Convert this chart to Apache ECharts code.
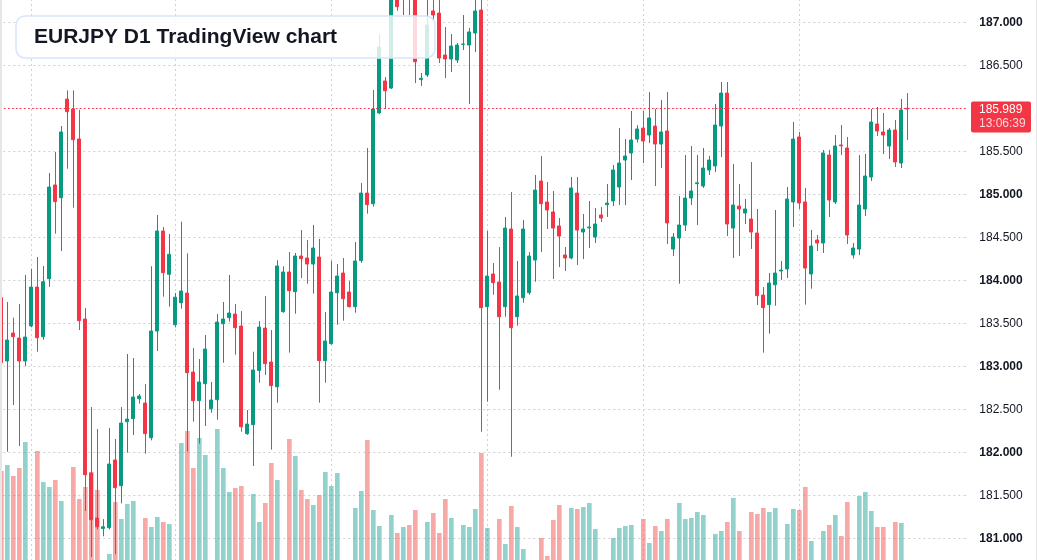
<!DOCTYPE html>
<html><head><meta charset="utf-8">
<script src="https://cdn.jsdelivr.net/npm/echarts@6/dist/echarts.min.js"></script>
<style>
html,body{margin:0;padding:0;background:#fff;overflow:hidden;}
#c{width:1037px;height:560px;position:absolute;left:0;top:0;}
.edge{position:absolute;top:0;height:560px;background:#e6e6e6;z-index:5;}
</style></head><body>
<div id="c"></div>
<div class="edge" style="left:0;width:2px"></div>
<div class="edge" style="left:1036px;width:1px"></div>
<script>
const title = 'EURJPY D1 TradingView chart';
const countdown = '13:06:39';
const opens = [183.794,183.058,183.383,183.325,183.058,183.465,183.918,183.341,184.015,185.105,
184.957,186.104,185.988,185.640,183.546,181.755,181.232,181.110,181.120,181.907,
181.608,182.352,182.387,182.620,182.569,182.166,183.407,184.570,184.066,183.480,
183.736,183.848,182.930,182.597,182.794,182.503,182.608,183.492,183.562,183.604,
183.465,182.213,182.318,182.949,183.441,183.046,182.759,183.631,184.093,183.864,
184.279,184.256,184.186,184.267,183.062,183.259,183.852,184.081,183.860,183.690,
184.225,185.011,184.887,185.942,186.314,186.232,187.320,187.300,187.550,187.350,
186.330,186.384,187.128,187.104,186.616,186.570,186.558,186.740,186.732,186.872,
187.139,183.690,184.070,183.976,183.690,184.593,183.573,183.794,183.852,184.232,
185.151,184.907,184.791,184.628,184.291,184.256,185.011,184.558,184.606,184.500,
184.756,184.876,184.919,185.081,185.395,185.477,185.639,185.767,185.686,185.790,
185.581,185.733,184.360,184.488,184.639,184.953,185.120,185.093,185.279,185.326,
185.791,186.174,184.604,184.860,184.779,184.709,184.546,183.825,183.713,183.945,
184.105,184.128,184.907,185.663,184.907,184.070,184.465,184.430,185.453,184.907,
185.570,185.535,184.291,184.360,184.826,185.198,185.814,185.721,185.558,185.744,
185.360,185.995];
const closes = [183.038,183.302,183.341,183.058,183.337,183.918,183.329,183.980,185.081,184.911,
185.721,185.957,185.632,183.527,181.736,181.213,181.131,181.130,181.860,181.585,
182.337,182.383,182.639,182.650,182.213,183.407,184.570,184.085,184.298,183.800,
183.872,182.922,182.597,182.814,183.197,182.605,183.511,183.546,183.616,183.445,
182.294,182.325,182.953,183.453,183.027,182.771,184.163,184.093,183.876,184.279,
184.248,184.186,184.372,183.062,183.290,183.860,184.046,183.783,183.690,184.221,
185.011,184.876,185.988,186.709,186.201,187.350,187.178,187.500,187.350,186.539,
186.345,186.965,187.081,186.581,186.570,186.721,186.732,186.744,186.884,187.128,
183.678,184.046,183.969,183.573,184.604,183.445,183.814,184.593,184.279,185.046,
184.887,184.814,184.604,184.511,184.256,185.070,184.581,184.593,184.616,184.651,
184.721,184.895,185.279,185.360,185.442,185.628,185.756,185.616,185.884,185.581,
185.721,184.663,184.500,184.639,184.953,185.035,185.130,185.302,185.395,185.802,
186.174,184.651,184.872,184.826,184.826,184.558,183.818,183.678,183.965,184.081,
184.116,184.942,185.639,184.895,184.139,184.395,184.430,185.477,184.930,185.558,
185.560,184.523,184.372,184.872,185.209,185.837,185.733,185.686,185.744,185.372,
185.977,185.989];
const lows = [182.980,182.004,182.546,182.070,182.999,183.450,183.166,183.306,183.920,184.539,
184.337,185.294,184.841,183.418,181.314,180.779,181.100,181.020,181.100,180.810,
181.403,181.992,182.197,182.562,181.980,182.135,183.174,183.806,183.690,183.450,
183.666,182.004,182.352,182.097,182.302,182.457,182.376,183.038,183.515,183.131,
182.236,182.200,181.837,182.806,182.895,182.027,182.573,183.620,183.155,183.608,
184.023,183.957,183.841,182.573,182.806,183.250,183.480,183.527,183.680,183.620,
184.200,184.771,184.853,185.930,185.988,186.221,187.130,187.081,187.081,186.290,
186.256,186.360,187.023,186.523,186.349,186.418,186.523,186.674,186.046,186.651,
182.236,182.585,183.829,182.724,183.573,181.945,183.469,183.736,183.829,183.980,
184.325,184.593,184.011,184.151,184.105,184.240,184.174,184.244,184.372,184.430,
184.674,184.733,184.860,184.872,184.872,185.163,185.600,185.360,185.593,185.093,
185.302,184.419,184.279,183.957,184.570,184.872,184.639,185.070,185.221,185.256,
185.430,184.511,184.256,184.279,184.651,184.361,183.709,183.155,183.376,183.701,
184.000,184.023,184.616,184.826,183.713,183.899,184.337,184.314,184.732,184.884,
185.453,184.419,184.250,184.290,184.744,185.151,185.674,185.465,185.407,185.314,
185.302,185.628];
const highs = [183.800,183.744,183.562,183.721,184.058,184.132,184.267,184.163,185.244,185.488,
185.791,186.205,186.205,185.980,183.674,182.523,182.267,181.220,182.279,182.151,
182.523,183.139,183.093,182.674,182.790,184.160,184.756,184.616,184.535,183.850,
184.678,184.310,183.209,183.081,183.360,182.814,183.604,183.744,184.058,183.721,
183.639,182.488,183.166,183.523,183.814,183.418,184.230,184.160,184.325,184.314,
184.581,184.465,184.640,184.477,183.628,184.221,184.186,184.256,183.990,184.442,
185.128,185.535,186.209,186.860,186.360,187.450,187.420,187.550,187.600,187.400,
186.407,187.280,187.300,187.280,186.942,186.860,186.756,187.081,186.930,187.260,
187.300,184.570,184.197,184.383,184.732,185.023,184.221,184.698,184.325,185.221,
185.442,185.139,185.035,184.721,184.383,185.198,185.198,184.767,184.918,184.837,
184.849,185.116,185.337,185.767,185.639,185.965,185.800,185.965,186.186,185.988,
186.093,186.186,184.547,184.977,185.453,185.558,185.453,185.535,185.442,186.046,
186.302,186.302,185.349,185.116,184.942,185.372,184.826,183.918,184.081,184.814,
184.221,185.081,185.837,185.721,185.070,184.581,184.523,185.512,185.512,185.686,
185.802,185.663,184.430,185.453,185.465,185.988,186.012,185.942,185.767,185.860,
186.105,186.174];
const volumes = [89,95,84,92,118,0,109,78,73,80,
59,0,93,61,73,88,70,0,6,58,
41,56,59,0,42,33,43,38,36,0,
117,129,92,122,105,0,131,92,68,72,
74,0,66,38,57,97,80,0,121,104,
70,61,55,65,88,74,87,0,0,52,
69,120,50,34,0,45,27,33,35,50,
0,38,47,27,61,42,0,35,33,51,
107,32,0,41,16,54,33,11,0,0,
22,4,40,55,0,52,51,53,57,31,
0,0,22,32,34,35,0,41,17,34,
29,41,0,57,41,42,48,45,0,26,
29,38,62,29,0,48,46,52,48,52,
0,36,51,50,73,19,0,29,35,45,
24,58,0,64,68,49,33,33,0,38,
37,0];
const days = opens.map((_, i) => 'Day ' + (i + 1));
const timeTickDays = [5, 29, 55, 81, 107, 133];
const lastSlot = 160;          // empty right margin slots end here
const priceMin = 180.5, priceMax = 187.5, priceStep = 0.5;

const UP = '#089981', DOWN = '#F23645';
const VUP = 'rgba(38,166,154,0.5)', VDOWN = 'rgba(239,83,80,0.5)';
const GRID = '#cfd1d6';
const FONT = '"Liberation Sans", Arial, sans-serif';

const candles = opens.map((o, i) => [o, closes[i], lows[i], highs[i]]);
const vols = volumes.map((v, i) => ({ value: v, itemStyle: { color: closes[i] >= opens[i] ? VUP : VDOWN } }));
const lastClose = closes[closes.length - 1];

const chart = echarts.init(document.getElementById('c'), null, { renderer: 'canvas' });
const gridBase = { left: -1.67, right: 72.67, outerBoundsMode: 'none', containLabel: false };
chart.setOption({
  animation: false,
  backgroundColor: '#ffffff',
  title: {
    text: title, left: 16, top: 16, z: 20,
    padding: [10, 98, 10, 18],
    backgroundColor: 'rgba(255,255,255,0.82)',
    borderColor: '#d8e5f8', borderWidth: 1.5, borderRadius: 9,
    textStyle: { fontFamily: FONT, fontSize: 21, fontWeight: 'bold', color: '#131722', lineHeight: 22 }
  },
  grid: [
    Object.assign({ top: -21, bottom: -21 }, gridBase),
    Object.assign({ top: 360, bottom: 0 }, gridBase)
  ],
  xAxis: [
    { type: 'category', data: days, max: lastSlot, gridIndex: 0, boundaryGap: true,
      axisLine: { show: false }, axisTick: { show: false }, axisLabel: { show: false }, splitLine: { show: false } },
    { type: 'category', data: days, max: lastSlot, gridIndex: 1, boundaryGap: true, show: false }
  ],
  yAxis: [
    { type: 'value', position: 'right', gridIndex: 0, min: priceMin, max: priceMax, interval: priceStep,
      axisLine: { show: false },
      axisTick: { show: true, length: 3, lineStyle: { color: GRID, type: [2, 3] } },
      splitLine: { show: true, lineStyle: { color: GRID, type: [2, 3], width: 1 } },
      axisLabel: {
        margin: 15,
        formatter: v => (Math.abs(v - Math.round(v)) < 1e-9 ? '{b|' : '{n|') + v.toFixed(3) + '}',
        rich: {
          b: { fontFamily: FONT, fontSize: 12, fontWeight: 'bold', color: '#131722', padding: [2, 0, 0, 0] },
          n: { fontFamily: FONT, fontSize: 12, color: '#131722', padding: [2, 0, 0, 0] }
        }
      }
    },
    { type: 'value', gridIndex: 1, min: 0, max: 200, show: false, splitLine: { show: false } }
  ],
  series: [
    { type: 'line', xAxisIndex: 0, yAxisIndex: 0, data: closes, showSymbol: false, silent: true,
      lineStyle: { opacity: 0 }, z: 0,
      markLine: {
        silent: true, symbol: ['none', 'none'], label: { show: false }, animation: false, z: 0,
        lineStyle: { color: GRID, type: [2, 3], width: 1 },
        data: timeTickDays.concat([lastSlot]).map(i => ({ xAxis: i }))
      }
    },
    { type: 'bar', xAxisIndex: 1, yAxisIndex: 1, data: vols, barWidth: '78%', z: 1, silent: true },
    { type: 'candlestick', xAxisIndex: 0, yAxisIndex: 0, data: candles, barWidth: 3.7, z: 3,
      itemStyle: { color: UP, color0: DOWN, borderColor: UP, borderColor0: DOWN, borderWidth: 1 }
    }
  ]
});

// current-price line and label, positioned through the price axis scale
const py = chart.convertToPixel({ yAxisIndex: 0 }, lastClose);
const lineY = Math.floor(py) + 0.5;
chart.setOption({
  graphic: [
    { type: 'line', z: 900, silent: true, shape: { x1: 0, y1: lineY, x2: 967, y2: lineY },
      style: { stroke: DOWN, lineWidth: 1, lineDash: [1.5, 2.5] } },
    { type: 'rect', z: 1000, shape: { x: 971, y: py - 7.5, width: 60, height: 31, r: 2 }, style: { fill: DOWN } },
    { type: 'text', z: 1001, style: { x: 979, y: py + 0.5, text: lastClose.toFixed(3), fill: '#ffffff', font: '12px ' + FONT, verticalAlign: 'middle' } },
    { type: 'text', z: 1001, style: { x: 979, y: py + 15, text: countdown, fill: 'rgba(255,255,255,0.8)', font: '12px ' + FONT, verticalAlign: 'middle' } }
  ]
});
</script>
</body></html>
